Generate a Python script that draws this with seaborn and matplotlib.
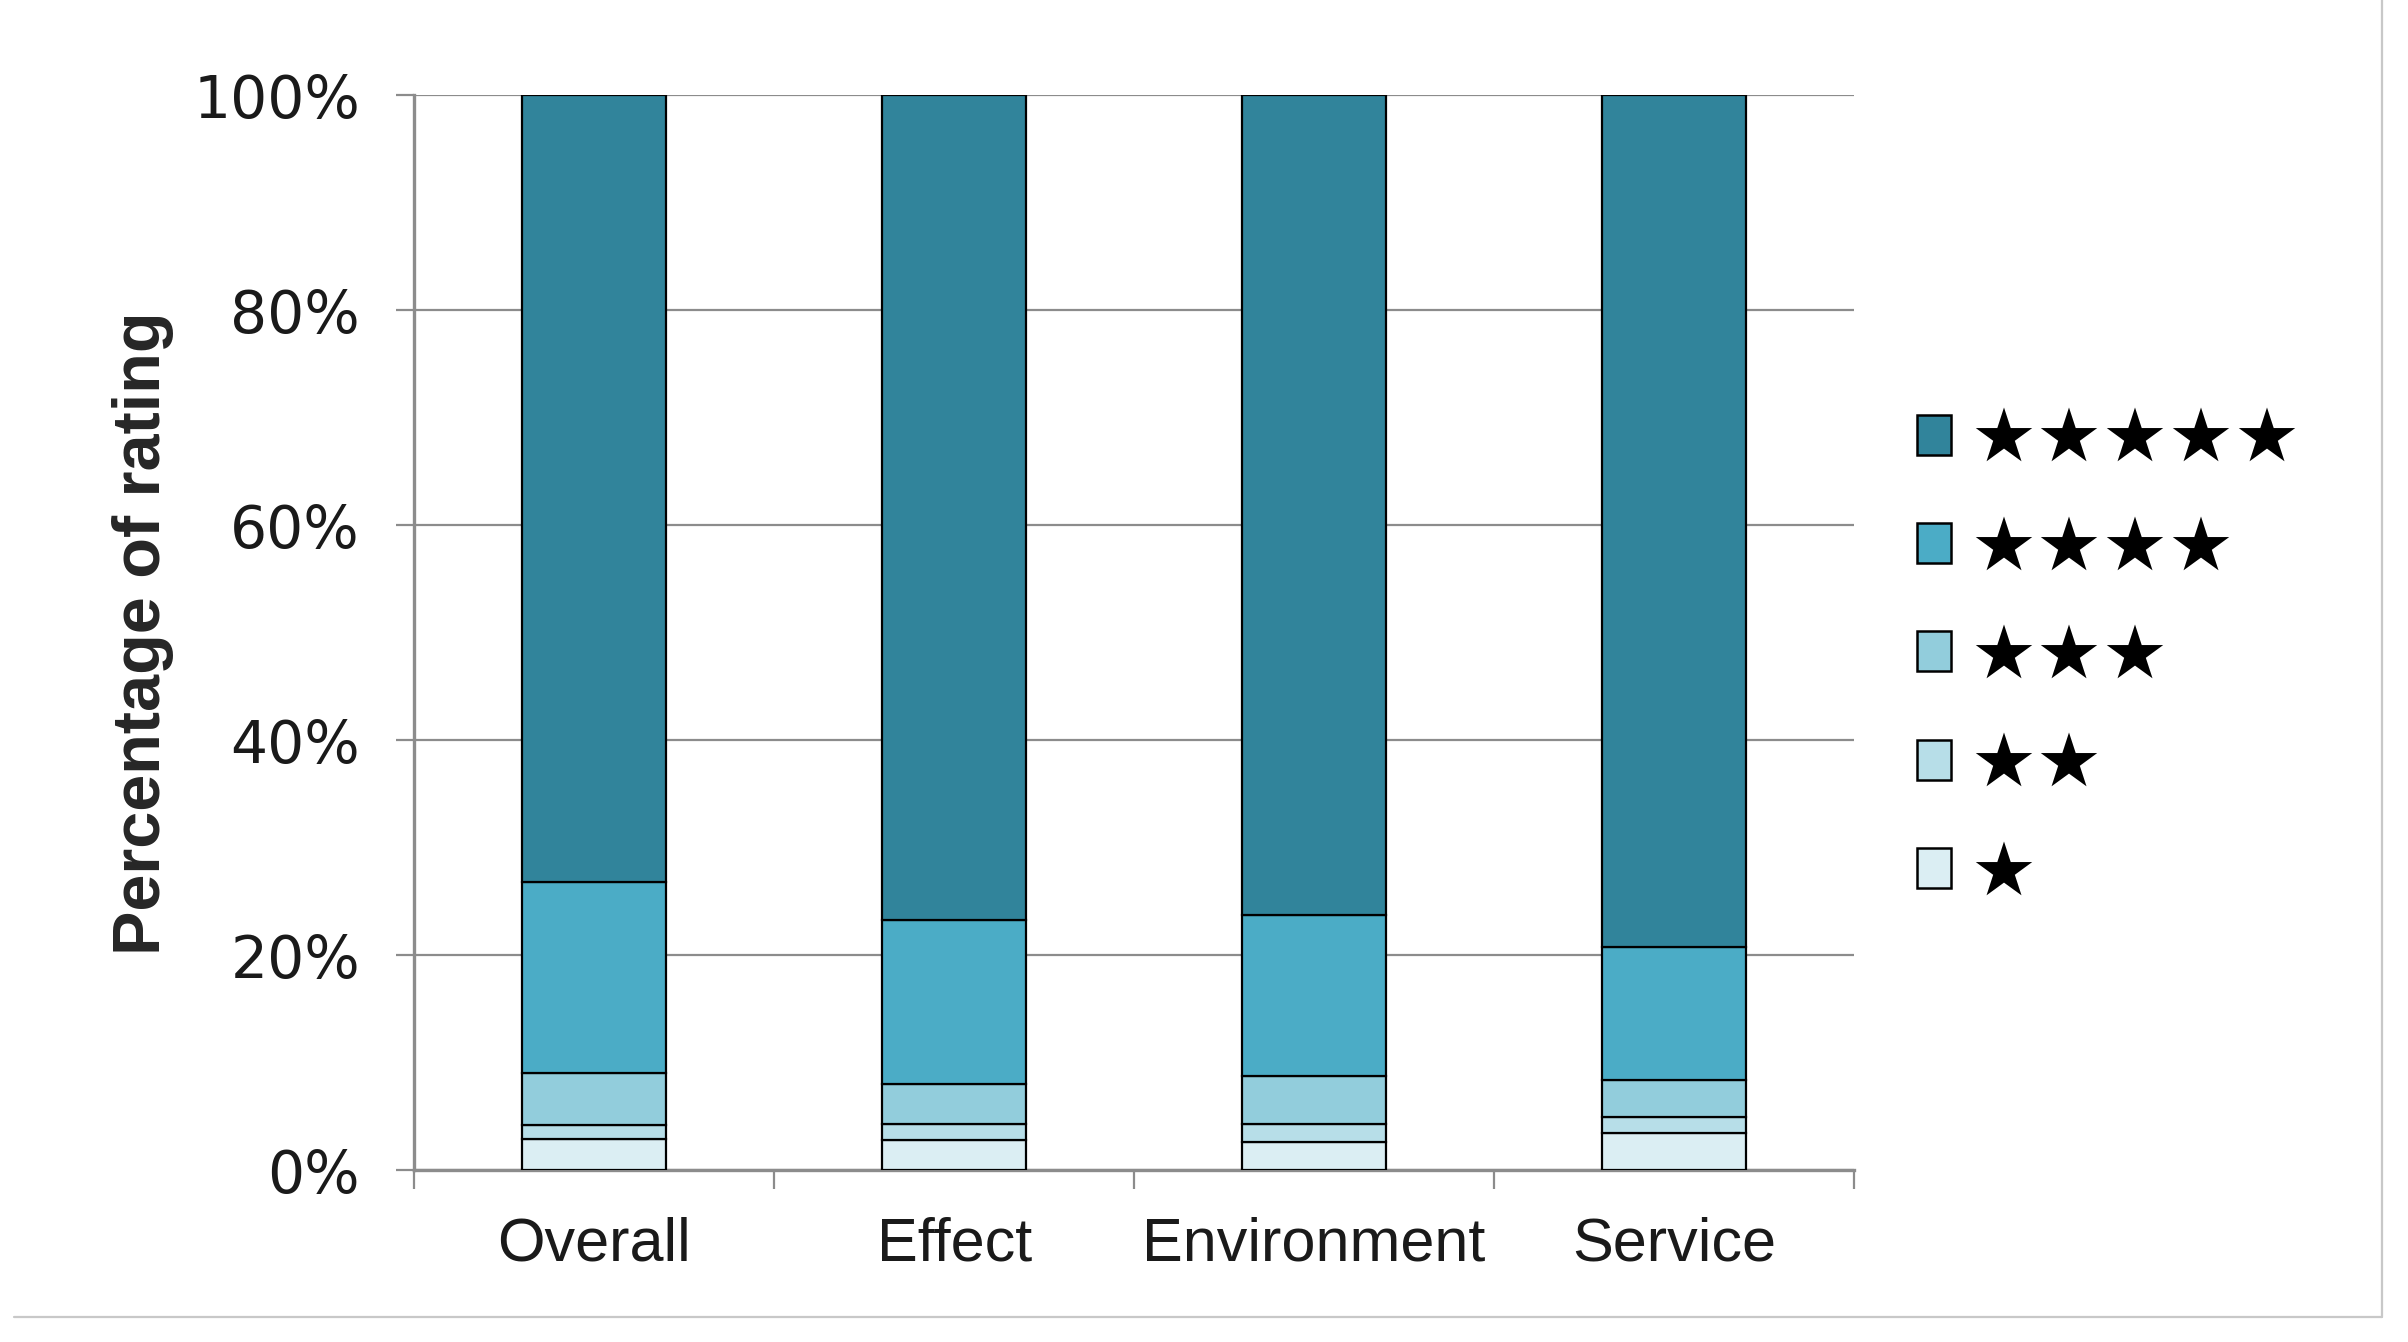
import matplotlib
matplotlib.use("Agg")
import matplotlib.pyplot as plt
from matplotlib.lines import Line2D
from matplotlib.patches import Patch
import numpy as np
import pandas as pd
import seaborn as sns

categories = ["Overall", "Effect", "Environment", "Service"]
one_star = [2.86, 2.83, 2.67, 3.48]
two_star = [1.39, 1.43, 1.59, 1.46]
three_star = [4.80, 3.73, 4.50, 3.42]
four_star = [17.75, 15.30, 15.00, 12.44]
five_star = [73.20, 76.71, 76.24, 79.20]
rating_labels = ["★", "★★", "★★★", "★★★★", "★★★★★"]
colors = ["#DBEEF3", "#B7DEE8", "#92CDDC", "#4BACC6", "#31849B"]
yticks = [0, 20, 40, 60, 80, 100]
ytick_labels = ["0%", "20%", "40%", "60%", "80%", "100%"]

sns.set_style("white")
plt.rcParams["font.family"] = ["DejaVu Sans"]

fig = plt.figure(figsize=(24.08, 13.42), dpi=100)
ax = fig.add_axes([0.172, 0.128, 0.598, 0.801])

series = [one_star, two_star, three_star, four_star, five_star]
df = pd.DataFrame({"category": categories})
bottom = np.zeros(len(categories))
for vals, lab, col in zip(series, rating_labels, colors):
    df["value"] = vals
    sns.barplot(data=df, x="category", y="value", order=categories, color=col,
                width=0.4, bottom=bottom, edgecolor="black", linewidth=1.6,
                ax=ax, zorder=3, saturation=1)
    bottom = bottom + np.array(vals)

ax.set_xlim(-0.5, 3.5)
ax.set_ylim(0, 100)
ax.set_yticks(yticks)
ax.set_yticklabels(ytick_labels, fontsize=42, color="#1a1a1a", family="DejaVu Sans")
ax.yaxis.grid(True, color="#8c8c8c", linewidth=1.6, zorder=0)
ax.set_axisbelow(True)
ax.tick_params(axis="y", length=13, width=1.6, color="#8c8c8c", pad=26, left=True)
ax.set_xticks(range(len(categories)))
ax.set_xticklabels(categories, fontsize=44, family="Liberation Sans", color="#1a1a1a")
ax.tick_params(axis="x", which="major", length=0, pad=33)
ax.set_xticks(np.arange(-0.5, 4.0, 1.0), minor=True)
ax.tick_params(axis="x", which="minor", length=14, width=1.6, color="#8c8c8c", bottom=True)
ax.set_xlabel("")
ax.set_ylabel("Percentage of rating", fontsize=48, fontweight="bold",
              family="Liberation Sans", labelpad=14)

for s in ["top", "right"]:
    ax.spines[s].set_visible(False)
for s in ["left", "bottom"]:
    ax.spines[s].set_color("#8c8c8c")
    ax.spines[s].set_linewidth(2.4)

handles = [Patch(facecolor=c, edgecolor="black", linewidth=1.8) for c in colors[::-1]]
leg = fig.legend(handles, rating_labels[::-1], loc="upper left",
                 bbox_to_anchor=(0.796, 0.699), frameon=False, fontsize=53,
                 handlelength=0.46, handleheight=0.46, handletextpad=0.27,
                 labelspacing=0.48, borderpad=0, borderaxespad=0)
for t in leg.get_texts():
    t.set_color("black")

fig.add_artist(Line2D([0.006, 0.989], [0.0186, 0.0186], color="#c8c8c8", lw=1.6,
                      transform=fig.transFigure))
fig.add_artist(Line2D([0.989, 0.989], [0.0186, 1.0], color="#c8c8c8", lw=1.6,
                      transform=fig.transFigure))

fig.savefig("out.png", dpi=100)
